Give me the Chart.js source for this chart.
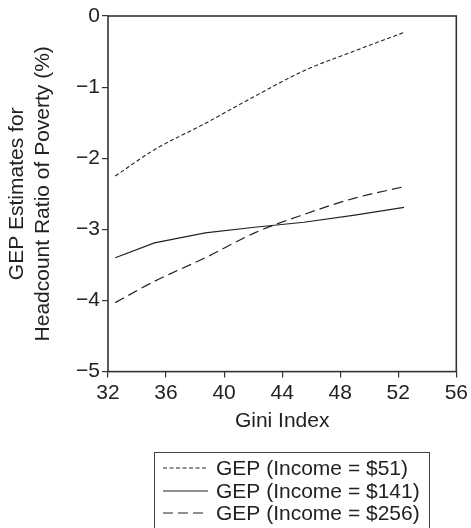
<!DOCTYPE html>
<html>
<head>
<meta charset="utf-8">
<script src="https://cdn.jsdelivr.net/npm/chart.js@4.4.0/dist/chart.umd.min.js"></script>
<style>
 html, body { margin: 0; padding: 0; background: #fff; }
 #wrap { width: 471px; height: 528px; }
</style>
</head>
<body>
<div id="wrap"><canvas id="canvasGep" width="471" height="528"></canvas></div>
<script>
//Datos
const giniIndex = [32.5, 35.2, 38.7, 42.1, 45.5, 49.0, 52.4];
const gep51  = [-2.25, -1.88, -1.51, -1.13, -0.77, -0.49, -0.23];
const gep141 = [-3.40, -3.19, -3.05, -2.97, -2.90, -2.80, -2.69];
const gep256 = [-4.03, -3.73, -3.40, -3.05, -2.79, -2.56, -2.40];
const etiquetas = ["GEP (Income = $51)", "GEP (Income = $141)", "GEP (Income = $256)"];
const xTicks = [32, 36, 40, 44, 48, 52, 56];
const yTicks = [0, -1, -2, -3, -4, -5];

const colorLinea = "#222";
const fuente = "'Liberation Sans', Arial, sans-serif";

//Armo los puntos x,y
function armarPuntos(valores) {
 let puntos = [];
 for (let i = 0; i < giniIndex.length; i++) {
  puntos.push({x: giniIndex[i], y: valores[i]});
 }
 return puntos;
}

//Plugin para el marco del area y la leyenda con recuadro
const marcoYLeyenda = {
 id: 'marcoYLeyenda',
 afterDraw(chart) {
  const ctx = chart.ctx;
  const a = chart.chartArea;
  ctx.save();
  ctx.strokeStyle = "#333";
  ctx.lineWidth = 1.6;
  ctx.setLineDash([]);
  ctx.strokeRect(a.left, a.top, a.right - a.left, a.bottom - a.top);

  //Leyenda
  ctx.lineWidth = 1;
  ctx.strokeStyle = "#444";
  ctx.strokeRect(154.5, 452.5, 275, 90);
  const filas = [468, 491, 513];
  ctx.font = "21px " + fuente;
  ctx.fillStyle = colorLinea;
  ctx.textBaseline = "middle";
  chart.data.datasets.forEach(function(ds, i) {
   ctx.strokeStyle = colorLinea;
   ctx.lineWidth = 1.2;
   ctx.setLineDash(ds.borderDash || []);
   ctx.beginPath();
   ctx.moveTo(163, filas[i]);
   ctx.lineTo(208, filas[i]);
   ctx.stroke();
   ctx.setLineDash([]);
   ctx.fillText(ds.label, 216, filas[i] + 1);
  });
  ctx.restore();
 }
};

var canvas = document.getElementById("canvasGep");
let grafico = new Chart(canvas, {
 type: 'line',
 data: {
  datasets: [
   { label: etiquetas[0], data: armarPuntos(gep51), borderColor: colorLinea, borderWidth: 1.1, borderDash: [4, 2.5], pointRadius: 0, cubicInterpolationMode: 'monotone', fill: false },
   { label: etiquetas[1], data: armarPuntos(gep141), borderColor: colorLinea, borderWidth: 1.2, borderDash: [], pointRadius: 0, tension: 0, fill: false },
   { label: etiquetas[2], data: armarPuntos(gep256), borderColor: colorLinea, borderWidth: 1.2, borderDash: [10, 5], pointRadius: 0, cubicInterpolationMode: 'monotone', fill: false }
  ]
 },
 options: {
  responsive: false,
  animation: false,
  devicePixelRatio: 1,
  layout: { padding: { left: 5, top: 16, right: 13, bottom: 94 } },
  plugins: { legend: { display: false }, tooltip: { enabled: false } },
  scales: {
   x: {
    type: 'linear', min: 32, max: 56,
    afterBuildTicks: function(scale) { scale.ticks = xTicks.map(v => ({value: v})); },
    grid: { drawOnChartArea: false, drawTicks: true, tickLength: 6, color: "#333", lineWidth: 1.2 },
    border: { display: false },
    ticks: { color: colorLinea, font: { size: 21, family: fuente }, padding: 3, maxRotation: 0 },
    title: { display: true, text: "Gini Index", color: colorLinea, font: { size: 21, family: fuente }, padding: { top: 0, bottom: 0 } }
   },
   y: {
    type: 'linear', min: -5, max: 0,
    afterBuildTicks: function(scale) { scale.ticks = yTicks.map(v => ({value: v})); },
    grid: { drawOnChartArea: false, drawTicks: true, tickLength: 6, color: "#333", lineWidth: 1.2 },
    border: { display: false },
    ticks: { color: colorLinea, font: { size: 21, family: fuente }, padding: 2,
     callback: function(v) { return v === 0 ? "0" : "\u2212" + Math.abs(v); } },
    title: { display: true, text: ["GEP Estimates for", "Headcount Ratio of Poverty (%)"], color: colorLinea, font: { size: 21, family: fuente, lineHeight: 1.2 }, padding: { top: 0, bottom: 6 } },
    afterFit: function(scale) { scale.width = 103; }
   }
  }
 },
 plugins: [marcoYLeyenda]
});
</script>
</body>
</html>
